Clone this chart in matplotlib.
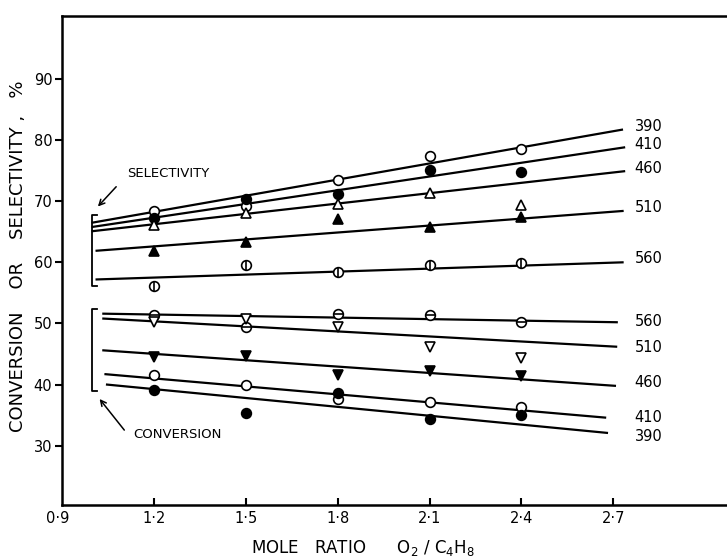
import numpy as np
import matplotlib
matplotlib.use("Agg")
import matplotlib.pyplot as plt

# mole ratios where points were measured
ratio = [1.2, 1.5, 1.8, 2.1, 2.4]
temps = ["390", "410", "460", "510", "560"]

# selectivity points (%)
sel_open_circle = [68.4, 69.2, 73.4, 77.4, 78.5]
sel_filled_circle = [67.3, 70.4, 71.2, 75.1, 74.8]
sel_open_tri = [66.1, 68.0, 69.6, 71.4, 69.4]
sel_filled_tri = [61.8, 63.4, 67.1, 65.8, 67.4]
sel_phi = [56.2, 59.6, 58.5, 59.6, 59.9]

# conversion points (%)
conv_theta = [51.4, 49.4, 51.6, 51.4, 50.2]
conv_open_dtri = [50.3, 50.8, 49.4, 46.1, 44.4]
conv_filled_dtri = [44.5, 44.7, 41.6, 42.2, 41.4]
conv_open_circle = [41.5, 39.9, 37.7, 37.1, 36.3]
conv_filled_circle = [39.1, 35.4, 38.7, 34.3, 35.0]

# fitted lines: (x0, x1, y0, y1) per temperature
sel_x0 = [1.00, 1.00, 1.00, 1.013, 1.013]
sel_x1 = [2.728, 2.735, 2.735, 2.73, 2.73]
sel_y0 = [66.5, 65.8, 65.1, 61.9, 57.2]
sel_y1 = [81.7, 78.8, 74.9, 68.4, 60.0]

conv_x0 = [1.047, 1.042, 1.035, 1.035, 1.035]
conv_x1 = [2.679, 2.673, 2.705, 2.709, 2.711]
conv_y0 = [40.0, 41.7, 45.6, 50.8, 51.6]
conv_y1 = [32.1, 34.6, 39.8, 46.2, 50.2]

sel_label_y = [82.3, 79.3, 75.3, 69.0, 60.7]
conv_label_y = [31.5, 34.6, 40.3, 46.1, 50.3]

xticks = [1.2, 1.5, 1.8, 2.1, 2.4, 2.7]
xticklabels = ["1·2", "1·5", "1·8", "2·1", "2·4", "2·7"]
yticks = [30, 40, 50, 60, 70, 80, 90]

plt.rcParams['font.family'] = ['DejaVu Sans']

fig = plt.figure(figsize=(7.27, 5.58), dpi=100)
ax = fig.add_axes([0.0853, 1 - 505 / 558, 0.9147, 489 / 558])
ax.set_xlim(0.9, 3.071)
ax.set_ylim(20.3, 100.3)

lw = 1.6
for i in range(5):
    ax.plot([sel_x0[i], sel_x1[i]], [sel_y0[i], sel_y1[i]], color='black', lw=lw)
    ax.plot([conv_x0[i], conv_x1[i]], [conv_y0[i], conv_y1[i]], color='black', lw=lw)
    ax.text(2.77, sel_label_y[i], temps[i], fontsize=10.5, va='center', ha='left')
    ax.text(2.77, conv_label_y[i], temps[i], fontsize=10.5, va='center', ha='left')

ms = 7
def pts(y, m, face, size=ms):
    ax.plot(ratio, y, ls='none', marker=m, ms=size, mfc=face, mec='black',
            mew=1.2, zorder=3)

pts(sel_open_circle, 'o', 'white')
pts(sel_filled_circle, 'o', 'black')
pts(sel_open_tri, '^', 'white', 6.5)
pts(sel_filled_tri, '^', 'black', 6.5)
pts(sel_phi, 'o', 'white')
ax.plot(ratio, sel_phi, ls='none', marker='|', ms=ms, mec='black', mew=1.2, zorder=4)

pts(conv_theta, 'o', 'white')
ax.plot(ratio, conv_theta, ls='none', marker='_', ms=ms, mec='black', mew=1.2, zorder=4)
pts(conv_open_dtri, 'v', 'white', 6.5)
pts(conv_filled_dtri, 'v', 'black', 6.5)
pts(conv_open_circle, 'o', 'white')
pts(conv_filled_circle, 'o', 'black')

# brackets
ax.plot([1.014, 0.999, 0.999, 1.014], [67.7, 67.7, 56.1, 56.1], color='black', lw=1.3)
ax.plot([1.013, 0.997, 0.997, 1.013], [52.3, 52.3, 38.9, 38.9], color='black', lw=1.3)

ax.annotate("", xy=(1.011, 68.8), xytext=(1.083, 72.7),
            arrowprops=dict(arrowstyle='->', color='black', lw=1.1))
ax.text(1.246, 74.6, "SELECTIVITY", fontsize=9.5, ha='center', va='center')
ax.annotate("", xy=(1.017, 38.0), xytext=(1.109, 32.2),
            arrowprops=dict(arrowstyle='->', color='black', lw=1.1))
ax.text(1.277, 31.9, "CONVERSION", fontsize=9.5, ha='center', va='center')

ax.spines['right'].set_visible(False)
for s in ['left', 'bottom', 'top']:
    ax.spines[s].set_linewidth(1.8)

ax.set_xticks(xticks)
ax.set_xticklabels(xticklabels, fontsize=10.5)
ax.set_yticks(yticks)
ax.set_yticklabels([str(v) for v in yticks], fontsize=10.5)
ax.tick_params(axis='x', direction='in', length=5, width=1.5, pad=4)
ax.tick_params(axis='y', direction='out', length=5, width=1.5, pad=2)
ax.annotate("0·9", xy=(0.886, 0), xycoords=('data', 'axes fraction'),
            xytext=(0, -4), textcoords='offset points',
            fontsize=10.5, ha='center', va='top')

fig.text(0.025, 1 - 256 / 558, "CONVERSION    OR    SELECTIVITY ,   %",
         rotation=90, fontsize=13, ha='center', va='center')
fig.text(0.5, 1 - 548 / 558, "MOLE   RATIO      O$_2$ / C$_4$H$_8$",
         fontsize=12, ha='center', va='center')

fig.savefig("out.png", dpi=100)
